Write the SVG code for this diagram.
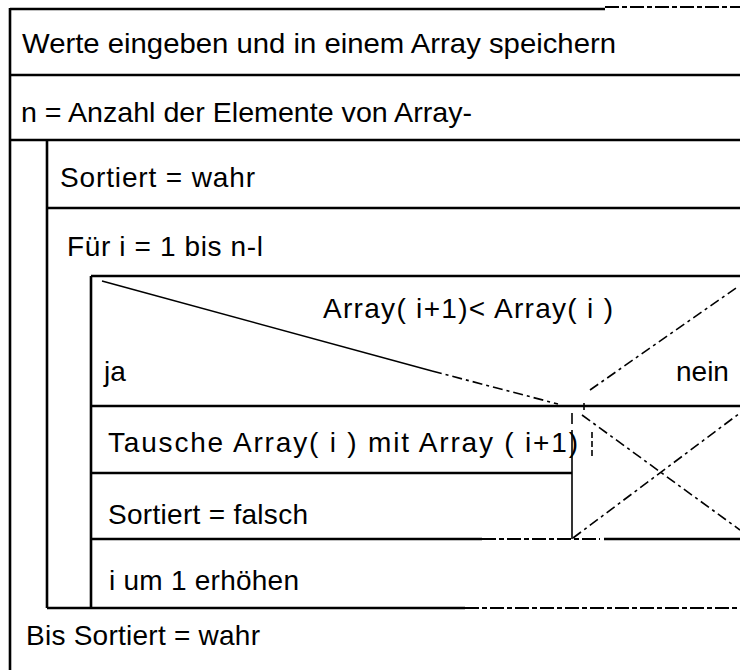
<svg xmlns="http://www.w3.org/2000/svg" width="740" height="670" viewBox="0 0 740 670">
<style>
  .t { font-family: "Liberation Sans", Arial, sans-serif; font-size: 28px; fill: #000; }
  .s { stroke: #000; stroke-width: 2.6; fill: none; }
  .thin { stroke: #000; stroke-width: 1.6; fill: none; }
  .dash { stroke: #000; stroke-width: 1.6; fill: none; stroke-dasharray: 10 4 3 4; }
  .brk { stroke: #000; stroke-width: 2; fill: none; stroke-dasharray: 14 3 5 3; }
</style>
<rect width="740" height="670" fill="#fff"/>
<g id="frame">
  <line class="s" x1="10" y1="9" x2="605" y2="9"/>
  <line class="brk" x1="605" y1="7" x2="740" y2="7"/>
  <line class="s" x1="10" y1="8" x2="10" y2="670"/>
</g>
<g id="werte">
  <text class="t" x="22" y="53" textLength="594" lengthAdjust="spacingAndGlyphs">Werte eingeben und in einem Array speichern</text>
  <line class="s" x1="10" y1="75" x2="740" y2="75"/>
</g>
<g id="anzahl">
  <text class="t" x="21" y="122" textLength="451" lengthAdjust="spacingAndGlyphs">n = Anzahl der Elemente von Array-</text>
  <line class="s" x1="10" y1="140" x2="740" y2="140"/>
</g>
<g id="loop">
  <line class="s" x1="47" y1="140" x2="47" y2="608"/>
  <line class="s" x1="47" y1="608" x2="465" y2="608"/>
  <line class="brk" x1="465" y1="608" x2="740" y2="608"/>
</g>
<g id="sortiert-wahr">
  <text class="t" x="60" y="187" textLength="195" lengthAdjust="spacing">Sortiert = wahr</text>
  <line class="s" x1="47" y1="208" x2="740" y2="208"/>
</g>
<g id="fuer">
  <text class="t" x="67" y="256" textLength="196" lengthAdjust="spacing">Für i = 1 bis n-l</text>
  <line class="s" x1="91" y1="276" x2="740" y2="276"/>
  <line class="s" x1="91" y1="276" x2="91" y2="608"/>
</g>
<g id="decision">
  <text class="t" x="323" y="318" textLength="290" lengthAdjust="spacing">Array( i+1)&lt; Array(  i  )</text>
  <text class="t" x="104" y="381">ja</text>
  <text class="t" x="676" y="381">nein</text>
  <line class="thin" x1="102" y1="281" x2="432" y2="371"/>
  <line class="dash" x1="432" y1="371" x2="558" y2="404"/>
  <line class="dash" x1="590" y1="390" x2="736" y2="288"/>
  <line class="s" x1="91" y1="406" x2="740" y2="406"/>
</g>
<g id="tausche">
  <text class="t" x="108" y="452" textLength="470" lengthAdjust="spacing">Tausche  Array(  i  ) mit Array  (  i+1)</text>
  <line class="s" x1="91" y1="473" x2="572" y2="473"/>
  <line class="thin" x1="592" y1="432" x2="592" y2="456" stroke-dasharray="6 3"/>
</g>
<g id="sortiert-falsch">
  <text class="t" x="108" y="524" textLength="200" lengthAdjust="spacing">Sortiert  =  falsch</text>
  <line class="thin" x1="572" y1="413" x2="572" y2="424"/>
  <line class="thin" x1="572" y1="430" x2="572" y2="539"/>
  <line class="s" x1="91" y1="539" x2="482" y2="539"/>
  <line class="brk" x1="482" y1="539" x2="600" y2="539"/>
  <line class="s" x1="604" y1="539" x2="740" y2="539"/>
</g>
<g id="nein-leer">
  <line class="dash" x1="582" y1="415" x2="740" y2="530"/>
  <line class="dash" x1="573" y1="538" x2="740" y2="413"/>
  <line class="thin" x1="584" y1="403" x2="584" y2="410"/>
</g>
<g id="erhoehen">
  <text class="t" x="109" y="590" textLength="190" lengthAdjust="spacing">i um 1 erhöhen</text>
</g>
<g id="bis">
  <text class="t" x="26" y="645" textLength="234" lengthAdjust="spacing">Bis Sortiert = wahr</text>
</g>
<g id="connectors"></g>
</svg>
